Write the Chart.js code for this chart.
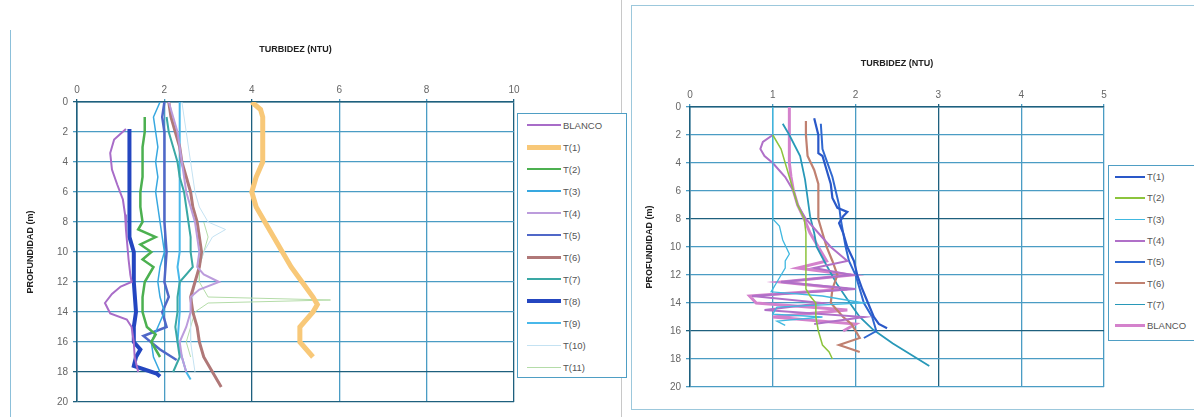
<!DOCTYPE html>
<html>
<head>
<meta charset="utf-8">
<script src="https://cdn.jsdelivr.net/npm/chart.js@4.4.1/dist/chart.umd.min.js"></script>
<style>
  body { margin: 0; width: 1194px; height: 417px; background: #fff; position: relative; overflow: hidden; font-family: "Liberation Sans", Arial, sans-serif; }
  canvas { position: absolute; top: 0; }
  #leftChart { left: 0; }
  #rightChart { left: 628px; }
  .rule { position: absolute; background: #8cc0da; }
  .frame { position: absolute; left: 631px; top: 5px; width: 600px; height: 405px; border: 1px solid #9cc8dc; box-sizing: border-box; }
  .legend { position: absolute; border: 1px solid #4f9ec4; background: #fff; box-sizing: border-box; }
  .legend .row { display: flex; align-items: center; font-size: 9.5px; color: #555; white-space: nowrap; }
  .legend .swatch { display: inline-block; margin-right: 2px; }
</style>
</head>
<body>
<div class="rule" style="left:10px;top:30px;width:1px;height:387px"></div>
<div class="rule" style="left:621px;top:0;width:1px;height:417px;background:#c8c8c8"></div>
<div class="frame"></div>
<canvas id="leftChart" width="620" height="417"></canvas>
<canvas id="rightChart" width="566" height="417"></canvas>
<div id="leftLegend" class="legend" style="left:517px;top:113px;width:110px;height:265px"></div>
<div id="rightLegend" class="legend" style="left:1108px;top:165px;width:100px;height:176px"></div>
<script>
// ---- left chart data (turbidez NTU vs profundidad m) ----
const LEFT_LABELS = ['BLANCO', 'T(1)', 'T(2)', 'T(3)', 'T(4)', 'T(5)', 'T(6)', 'T(7)', 'T(8)', 'T(9)', 'T(10)', 'T(11)']
const LEFT_X_MAX = 10
const LEFT_X_STEP = 2
const LEFT_DEPTH = [
  [1.8, 2.5, 3.4, 4.5, 5.5, 6.5, 7.5, 8.5, 9.5, 10.5, 11.5, 12, 12.3, 12.8, 13.4, 14.1, 14.5, 15, 16, 17, 18],
  [0, 0.5, 1, 2, 3, 4, 5, 6, 7, 8, 9, 10, 11, 12, 13, 13.5, 14, 15, 16, 17],
  [1, 2, 3, 4, 5, 6, 7, 8, 8.5, 9, 9.5, 10, 10.5, 11, 12, 13, 14, 15, 15.5, 16, 17],
  [0, 1, 2, 3, 4, 5, 6, 7, 8, 9, 10, 11, 12, 13, 14, 15, 16, 17, 18],
  [0, 2, 4, 6, 8, 10, 11, 11.5, 12, 12.5, 13, 14, 15, 16, 17, 18],
  [0, 1, 2, 4, 6, 8, 10, 12, 13, 14, 15, 15.6, 16.5, 17.2],
  [0, 1, 2, 3, 4, 5, 6, 7, 8, 9, 10, 11, 12, 13, 14, 15, 16, 17, 18, 19],
  [1, 2, 3, 4, 5, 6, 7, 8, 9, 10, 11, 12, 13, 14, 15, 16, 17, 18],
  [1.8, 3, 5, 7, 9, 9.5, 10, 12, 14, 15, 16, 16.5, 17, 17.6, 18.1, 18.3],
  [0, 2, 4, 6, 8, 10, 11, 12, 14, 16, 17, 18, 18.5],
  [0, 2, 4, 6, 7, 8, 8.5, 9, 10, 12, 14, 16, 18],
  [8, 9, 10, 11, 12, 13, 13.2, 13.4, 14, 15, 16, 17],
]
const LEFT_NTU = [
  [1.12, 0.85, 0.76, 0.8, 0.92, 1.05, 1.1, 1.12, 1.15, 1.18, 1.22, 1.25, 1.0, 0.8, 0.64, 0.76, 1.14, 1.25, 1.3, 1.32, 1.4],
  [4.0, 4.2, 4.25, 4.25, 4.25, 4.25, 4.1, 4.0, 4.1, 4.3, 4.5, 4.7, 4.9, 5.15, 5.4, 5.5, 5.4, 5.1, 5.1, 5.4],
  [1.55, 1.55, 1.5, 1.5, 1.5, 1.45, 1.45, 1.5, 1.4, 1.8, 1.45, 1.7, 1.5, 1.75, 1.55, 1.5, 1.5, 1.6, 1.8, 1.7, 1.9],
  [1.9, 1.75, 1.8, 1.85, 1.8, 1.85, 1.8, 1.85, 1.9, 1.95, 2.0, 1.9, 1.85, 1.9, 2.0, 1.85, 1.7, 1.75, 1.9],
  [2.1, 2.3, 2.4, 2.5, 2.7, 2.8, 2.75, 2.9, 3.25, 2.8, 2.6, 2.6, 2.5, 2.35, 2.4, 2.5],
  [2.0, 1.95, 2.0, 2.0, 2.0, 2.0, 2.05, 2.0, 2.1, 1.95, 2.05, 1.52, 1.9, 2.28],
  [2.1, 2.15, 2.25, 2.35, 2.4, 2.5, 2.6, 2.65, 2.75, 2.8, 2.85, 2.8, 2.7, 2.6, 2.65, 2.75, 2.8, 2.9, 3.1, 3.3],
  [2.05, 2.1, 2.2, 2.3, 2.35, 2.45, 2.5, 2.55, 2.6, 2.6, 2.65, 2.35, 2.3, 2.3, 2.25, 2.3, 2.35, 2.2],
  [1.2, 1.2, 1.2, 1.2, 1.2, 1.25, 1.3, 1.3, 1.35, 1.3, 1.3, 1.45, 1.35, 1.3, 1.82, 1.9],
  [2.35, 2.35, 2.35, 2.35, 2.35, 2.35, 2.3, 2.35, 2.35, 2.3, 2.4, 2.5, 2.6],
  [2.4, 2.5, 2.6, 2.7, 2.8, 3.0, 3.4, 3.1, 2.9, 2.7, 2.6, 2.6, 2.7],
  [2.9, 3.0, 2.9, 2.8, 2.8, 3.0, 5.8, 3.0, 2.7, 2.6, 2.5, 2.6],
]

// ---- right chart data ----
const RIGHT_LABELS = ['T(1)', 'T(2)', 'T(3)', 'T(4)', 'T(5)', 'T(6)', 'T(7)', 'BLANCO']
const RIGHT_X_MAX = 5
const RIGHT_X_STEP = 1
const RIGHT_DEPTH = [
  [0.8, 2, 3.3, 3.5, 4.5, 5.5, 6.5, 7.2, 7.5, 7.8, 8.3, 9, 10, 11, 12, 13, 14, 15, 15.5, 15.8],
  [2, 3, 4, 5, 6, 7, 8, 9, 10, 11, 12, 13, 13.5, 14, 15, 16, 17, 17.5, 18],
  [0, 2, 4, 6, 8, 8.5, 9.5, 10.5, 11, 11.5, 12.5, 13.2, 13.5, 14, 14.3, 14.8, 15, 15.3, 15.6],
  [2, 2.5, 3, 3.5, 4, 5, 6, 7, 8, 9, 10, 11, 11.5, 12, 12.5, 13, 13.5, 14, 14.5, 15, 15.5],
  [1.2, 3, 5, 7, 8, 9, 10, 11, 12, 13, 14, 15, 16, 16.5],
  [1, 2, 3.5, 4.5, 5.5, 7, 8, 9, 10, 11, 12, 13, 14, 15, 15.5, 16.5, 17, 17.2, 17.5],
  [1.2, 2, 3.5, 5.2, 6.5, 7.8, 9, 10, 11, 12.6, 14, 15, 15.9, 16.9, 17.8, 18.5],
  [0, 1, 2, 3, 4, 5, 6, 7, 8, 9, 10, 11, 11.5, 12, 12.5, 13, 13.5, 14, 14.5, 15, 15.5, 16],
]
const RIGHT_NTU = [
  [1.5, 1.55, 1.55, 1.6, 1.65, 1.7, 1.72, 1.78, 1.9, 1.85, 1.8, 1.85, 1.9, 1.98, 2.02, 2.08, 2.15, 2.22, 2.28, 2.38],
  [1.0, 1.1, 1.15, 1.2, 1.25, 1.3, 1.38, 1.4, 1.4, 1.4, 1.4, 1.4, 1.45, 1.52, 1.52, 1.55, 1.6, 1.68, 1.72],
  [1.0, 1.0, 1.0, 1.0, 1.0, 1.08, 1.12, 1.2, 1.15, 1.15, 1.05, 0.98, 1.6, 2.1, 1.05, 1.0, 1.6, 1.05, 1.15],
  [1.0, 0.88, 0.85, 0.9, 1.0, 1.15, 1.25, 1.3, 1.4, 1.55, 1.7, 1.9, 1.5, 1.95, 1.1, 2.0, 0.75, 1.6, 0.9, 2.1, 1.5],
  [1.58, 1.6, 1.72, 1.8, 1.82, 1.85, 1.88, 1.92, 2.0, 2.05, 2.1, 2.2, 2.25, 2.1],
  [1.4, 1.4, 1.42, 1.5, 1.55, 1.55, 1.55, 1.6, 1.65, 1.72, 1.78, 1.72, 1.7, 1.85, 1.95, 2.05, 1.8, 1.9, 2.05],
  [1.12, 1.2, 1.33, 1.39, 1.42, 1.45, 1.5, 1.53, 1.62, 1.77, 1.93, 2.05, 2.21, 2.45, 2.7, 2.89],
  [1.2, 1.2, 1.2, 1.2, 1.2, 1.22, 1.25, 1.3, 1.38, 1.45, 1.55, 1.65, 1.3, 1.95, 1.1, 1.9, 0.72, 0.8, 1.9, 1.0, 2.0, 1.85],
]

// styles
const LEFT_COLORS = ['#a86cc8', '#f8c878', '#4cb050', '#38a8e0', '#bc9cdc', '#5068c8', '#b07878', '#3aa8a4', '#2446c0', '#48b8ea', '#c4e2f2', '#b4dca8']
const LEFT_WIDTHS = [2, 5, 2.5, 1.5, 2, 2.5, 3, 2, 4, 2, 1, 1]
const RIGHT_COLORS = ['#2a58c8', '#8cc43c', '#40b8e0', '#b070c8', '#3068d0', '#c08070', '#2898b8', '#d482cc']
const RIGHT_WIDTHS = [2.2, 1.5, 1.3, 2, 2, 2.2, 1.8, 3]

const GRID = '#4a9cc4'
const GRID_DARK = '#1e607e'

const buildDatasets = (labels, depths, values, colors, widths) =>
  labels.map((label, i) => ({
    label,
    data: depths[i].map((d, j) => ({ x: values[i][j], y: d })),
    borderColor: colors[i],
    backgroundColor: colors[i],
    borderWidth: widths[i],
    showLine: true,
    pointRadius: 0,
    tension: 0,
  }))

const makeChart = (id, datasets, cfg) => {
  const gridColor = (darkValues) => (ctx) =>
    darkValues.includes(ctx.tick.value) ? GRID_DARK : GRID
  return new Chart(document.getElementById(id), {
    type: 'scatter',
    data: { datasets },
    options: {
      responsive: false,
      animation: false,
      layout: { padding: { left: 0, top: 0, right: cfg.padRight, bottom: cfg.padBottom } },
      plugins: { legend: { display: false }, tooltip: { enabled: false } },
      scales: {
        x: {
          type: 'linear',
          position: 'top',
          min: 0,
          max: cfg.xMax,
          ticks: { stepSize: cfg.xStep, padding: 3, color: '#666', font: { size: 10 } },
          grid: { color: gridColor(cfg.darkX), lineWidth: 1.3, tickLength: 3 },
          border: { color: GRID_DARK, width: 1.5 },
          title: {
            display: true,
            text: 'TURBIDEZ (NTU)',
            color: '#222',
            font: { size: 9, weight: 'bold' },
            padding: { top: cfg.xTitleTop, bottom: 0 },
          },
          afterFit: (scale) => { scale.height = cfg.top },
        },
        y: {
          type: 'linear',
          reverse: true,
          min: 0,
          max: 20,
          ticks: { stepSize: 2, padding: 5, color: '#666', font: { size: 10 } },
          grid: { color: gridColor(cfg.darkY), lineWidth: 1.3, tickLength: 4 },
          border: { color: GRID_DARK, width: 1.5 },
          title: {
            display: true,
            text: 'PROFUNDIDAD (m)',
            color: '#222',
            font: { size: 9, weight: 'bold' },
            padding: { top: cfg.yTitleTop, bottom: 0 },
          },
          afterFit: (scale) => { scale.width = cfg.left },
        },
      },
    },
  })
}

const buildLegend = (id, labels, colors, widths, rowHeight, swatchLeft, swatchWidth) => {
  const box = document.getElementById(id)
  labels.forEach((label, i) => {
    const row = document.createElement('div')
    row.classList.add('row')
    row.style.height = rowHeight + 'px'
    const swatch = document.createElement('span')
    swatch.classList.add('swatch')
    swatch.style.marginLeft = swatchLeft + 'px'
    swatch.style.width = swatchWidth + 'px'
    swatch.style.height = Math.max(1, widths[i]) + 'px'
    swatch.style.background = colors[i]
    row.appendChild(swatch)
    row.append(label)
    box.appendChild(row)
  })
}

makeChart('leftChart', buildDatasets(LEFT_LABELS, LEFT_DEPTH, LEFT_NTU, LEFT_COLORS, LEFT_WIDTHS), {
  xMax: LEFT_X_MAX,
  xStep: LEFT_X_STEP,
  top: 102,
  left: 77,
  padRight: 106,
  padBottom: 15,
  xTitleTop: 44,
  yTitleTop: 25,
  darkX: [0, 4, 10],
  darkY: [0, 18, 20],
})

makeChart('rightChart', buildDatasets(RIGHT_LABELS, RIGHT_DEPTH, RIGHT_NTU, RIGHT_COLORS, RIGHT_WIDTHS), {
  xMax: RIGHT_X_MAX,
  xStep: RIGHT_X_STEP,
  top: 107,
  left: 62,
  padRight: 90,
  padBottom: 30,
  xTitleTop: 58,
  yTitleTop: 16,
  darkX: [3],
  darkY: [8, 16],
})

buildLegend('leftLegend', LEFT_LABELS, LEFT_COLORS, LEFT_WIDTHS, 22, 9, 34)
buildLegend('rightLegend', RIGHT_LABELS, RIGHT_COLORS, RIGHT_WIDTHS, 21.3, 6, 30)
</script>
</body>
</html>
